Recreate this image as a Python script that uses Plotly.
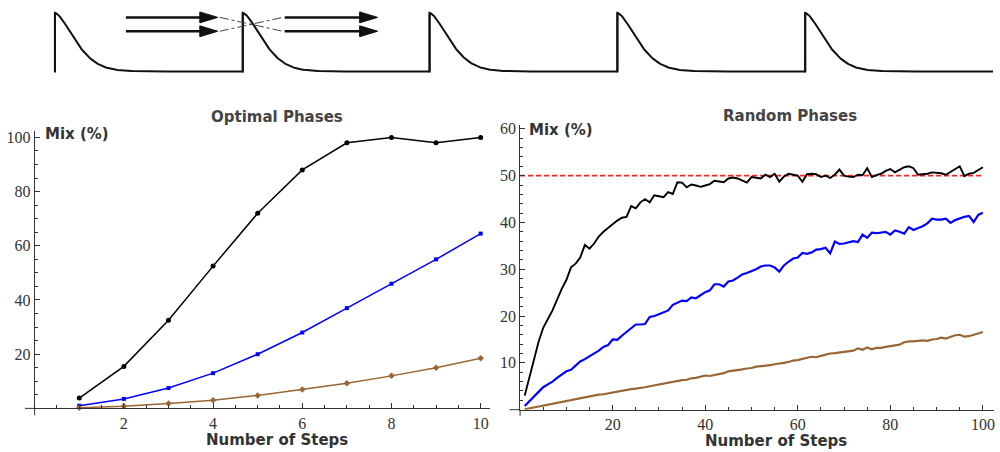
import numpy as np
import plotly.graph_objects as go

W, H = 1000, 452

# ---------------- data ----------------
opt_steps = [1, 2, 3, 4, 5, 6, 7, 8, 9, 10]
opt_black = [3.8, 15.5, 32.5, 52.5, 72.0, 88.0, 98.0, 100.0, 98.0, 100.0]
opt_blue = [1.0, 3.5, 7.5, 13.0, 20.0, 28.0, 37.0, 46.0, 55.0, 64.5]
opt_brown = [0.2, 0.8, 1.8, 3.0, 4.8, 7.0, 9.3, 12.0, 15.0, 18.5]

rnd_steps = list(range(1, 101))
rnd_black = [
    3.0, 7.0, 11.0, 14.5, 17.5, 19.3, 21.2, 23.5, 25.8, 27.7,
    30.4, 31.2, 32.5, 35.2, 34.4, 35.5, 37.0, 38.0, 38.8, 39.8,
    40.4, 41.0, 41.2, 43.5, 43.0, 44.3, 45.0, 44.3, 45.8, 45.6,
    45.4, 46.5, 46.1, 48.6, 48.5, 47.5, 48.1, 47.9, 47.6, 47.9,
    48.2, 48.9, 48.8, 48.6, 49.4, 49.6, 49.4, 49.0, 48.5, 49.7,
    49.5, 49.4, 50.2, 49.7, 50.4, 48.7, 49.8, 50.4, 50.2, 50.0,
    48.7, 50.3, 50.4, 50.3, 49.7, 50.0, 49.5, 50.2, 51.3, 50.0,
    49.8, 49.7, 50.2, 50.1, 51.6, 49.7, 50.1, 50.4, 51.0, 51.4,
    50.7, 51.2, 51.8, 52.0, 51.6, 50.2, 50.3, 50.4, 50.7, 50.6,
    50.5, 50.2, 50.8, 51.3, 52.0, 49.9, 50.4, 50.6, 51.2, 51.8,
]
rnd_blue = [
    0.8, 1.8, 2.7, 3.8, 4.8, 5.4, 6.0, 6.8, 7.5, 8.2,
    8.5, 9.5, 10.3, 10.8, 11.4, 12.0, 12.6, 13.4, 13.8, 15.0,
    14.9, 15.8, 16.6, 17.3, 18.2, 18.2, 18.3, 19.8, 20.0, 20.4,
    20.8, 21.2, 22.4, 22.9, 23.3, 23.2, 24.0, 23.8, 24.5, 25.1,
    25.5, 26.8, 26.8, 26.3, 27.4, 27.6, 28.2, 28.9, 29.2, 29.6,
    30.0, 30.6, 30.8, 30.8, 30.4, 29.5, 30.8, 31.6, 32.3, 32.5,
    33.5, 33.3, 33.6, 34.2, 34.3, 34.6, 33.4, 35.9, 35.4, 35.5,
    35.8, 36.0, 35.8, 37.4, 36.7, 37.8, 37.7, 37.8, 38.0, 37.4,
    38.3, 38.0, 37.6, 39.0, 38.4, 38.8, 39.2, 39.8, 40.8, 40.6,
    40.6, 40.8, 39.9, 40.5, 40.9, 41.2, 41.4, 40.1, 41.6, 42.1,
]
rnd_brown = [
    0.1, 0.3, 0.5, 0.7, 0.9, 1.1, 1.3, 1.5, 1.7, 1.9,
    2.1, 2.3, 2.5, 2.6, 2.8, 3.0, 3.2, 3.3, 3.5, 3.7,
    3.8, 4.0, 4.2, 4.4, 4.5, 4.6, 4.8, 5.0, 5.2, 5.4,
    5.6, 5.7, 6.0, 6.1, 6.3, 6.4, 6.7, 6.8, 7.0, 7.3,
    7.2, 7.4, 7.6, 7.8, 8.2, 8.3, 8.4, 8.6, 8.8, 8.9,
    9.2, 9.3, 9.3, 9.5, 9.7, 9.8, 10.0, 10.2, 10.5, 10.6,
    10.9, 11.1, 11.3, 11.2, 11.5, 11.8, 12.0, 12.1, 12.2, 12.3,
    12.5, 12.6, 13.1, 12.8, 13.3, 12.9, 13.2, 13.2, 13.4, 13.6,
    13.7, 13.9, 14.4, 14.6, 14.6, 14.7, 14.8, 14.7, 15.0, 15.1,
    15.4, 15.2, 15.6, 15.9, 16.0, 15.6, 15.7, 16.0, 16.2, 16.6,
]
random_limit = 50

opt_xticks = [2, 4, 6, 8, 10]
opt_yticks = [20, 40, 60, 80, 100]
rnd_xticks = [20, 40, 60, 80, 100]
rnd_yticks = [10, 20, 30, 40, 50, 60]

# ---------------- styles ----------------
BLACK = "#000000"
BLUE = "#0000ff"
BROWN = "rgb(153,102,51)"
AXC = "#333333"
TICKFONT = dict(family="Liberation Serif", size=16, color="#333333")
LABFONT = dict(family="DejaVu Sans", size=15, color="#333333")
TITLEFONT = dict(family="DejaVu Sans", size=15, color="#444444")


def px(x):
    return x / W


def py(y):
    return (H - y) / H


fig = go.Figure()

# ---------------- left: optimal phases ----------------
for ys, col, sym, sz in [(opt_black, BLACK, "circle", 5),
                         (opt_blue, BLUE, "square", 4),
                         (opt_brown, BROWN, "diamond", 5)]:
    fig.add_trace(go.Scatter(x=opt_steps, y=ys, mode="lines+markers",
                             line=dict(color=col, width=1.5),
                             marker=dict(color=col, size=sz, symbol=sym),
                             xaxis="x", yaxis="y", showlegend=False,
                             cliponaxis=False))

# ---------------- right: random phases ----------------
fig.add_trace(go.Scatter(x=[0, 100], y=[random_limit, random_limit], mode="lines",
                         line=dict(color="rgb(255,30,30)", width=1.6, dash="5px,3px"),
                         xaxis="x2", yaxis="y2", showlegend=False))
for ys, col, w in [(rnd_brown, BROWN, 2.2), (rnd_blue, BLUE, 2.2), (rnd_black, BLACK, 1.9)]:
    fig.add_trace(go.Scatter(x=rnd_steps, y=ys, mode="lines",
                             line=dict(color=col, width=w),
                             xaxis="x2", yaxis="y2", showlegend=False,
                             cliponaxis=False))

# ---------------- top schematic ----------------
pulse_starts = [55, 243, 430, 618, 806]
base_y, top_y, end_x = 68, 9, 994
sx, sy = [], []
for i, x0 in enumerate(pulse_starts):
    nxt = pulse_starts[i + 1] if i + 1 < len(pulse_starts) else end_x
    xs = np.linspace(x0, nxt, 200)
    f = np.exp(-((xs - x0) / 27.3) ** 1.59)
    sx += [x0] + list(xs)
    sy += [base_y] + list(base_y - (base_y - top_y) * f)
    sx.append(None)
    sy.append(None)
fig.add_trace(go.Scatter(x=sx, y=sy, mode="lines", line=dict(color="#111", width=2),
                         xaxis="x3", yaxis="y3", showlegend=False, connectgaps=False))
vx, vy = [], []
for x0 in pulse_starts:
    vx += [x0, x0, None]
    vy += [base_y + 1, top_y, None]
fig.add_trace(go.Scatter(x=vx, y=vy, mode="lines", line=dict(color="#111", width=2),
                         xaxis="x3", yaxis="y3", showlegend=False))

arrow_rows = [13.5, 27.5]
arrow_spans = [(126, 218), (285, 378)]
for (xa, xb) in arrow_spans:
    for yy in arrow_rows:
        fig.add_trace(go.Scatter(x=[xa, xb - 16], y=[yy, yy], mode="lines",
                                 line=dict(color="#111", width=2.5),
                                 xaxis="x3", yaxis="y3", showlegend=False))
        fig.add_trace(go.Scatter(x=[xb - 18, xb, xb - 18, xb - 18],
                                 y=[yy - 5.5, yy, yy + 5.5, yy - 5.5],
                                 mode="lines", fill="toself", fillcolor="#111",
                                 line=dict(color="#111", width=1),
                                 xaxis="x3", yaxis="y3", showlegend=False))
cross_x = (arrow_spans[0][1] + 2, arrow_spans[1][0] - 2)
fig.add_trace(go.Scatter(x=[cross_x[0], cross_x[1], None, cross_x[0], cross_x[1]],
                         y=[arrow_rows[0], arrow_rows[1], None, arrow_rows[1], arrow_rows[0]],
                         mode="lines", line=dict(color="#444", width=1, dash="dashdot"),
                         xaxis="x3", yaxis="y3", showlegend=False))

# ---------------- axes ----------------
common = dict(showgrid=False, zeroline=False, showline=True, linecolor=AXC,
              linewidth=1, ticks="inside", ticklen=5, tickcolor=AXC,
              tickfont=TICKFONT, fixedrange=True)

fig.update_layout(
    width=W, height=H, margin=dict(l=0, r=0, t=0, b=0),
    paper_bgcolor="white", plot_bgcolor="rgba(0,0,0,0)",
    xaxis=dict(domain=[px(34.7), px(490.1)], range=[0, 10.2], anchor="y",
               tickvals=opt_xticks,
               minor=dict(tickvals=[0.5, 1, 1.5, 2.5, 3, 3.5, 4.5, 5, 5.5, 6.5, 7, 7.5,
                                    8.5, 9, 9.5, 10.5],
                          ticks="inside", ticklen=3, tickcolor=AXC),
               **common),
    yaxis=dict(domain=[py(408), py(128.3)], range=[0, 102.3], anchor="x",
               tickvals=opt_yticks,
               minor=dict(dtick=5, ticks="inside", ticklen=3, tickcolor=AXC),
               **common),
    xaxis2=dict(domain=[px(520.6), px(995)], range=[0, 102.4], anchor="y2",
                tickvals=rnd_xticks,
                minor=dict(dtick=5, ticks="inside", ticklen=3, tickcolor=AXC),
                **common),
    yaxis2=dict(domain=[py(409.3), py(121.7)], range=[0, 60.9], anchor="x2",
                tickvals=rnd_yticks,
                minor=dict(dtick=2, ticks="inside", ticklen=3, tickcolor=AXC),
                **common),
    xaxis3=dict(domain=[0, 1], range=[0, W], visible=False, fixedrange=True, anchor="y3"),
    yaxis3=dict(domain=[py(74), py(2)], range=[74, 2], visible=False, fixedrange=True,
                anchor="x3"),
)

# axis extensions past the origin (Mathematica style)
for (x0, y0, x1, y1) in [(25, 408, 34.7, 408), (34.7, 408, 34.7, 415),
                         (510, 409.3, 520.6, 409.3), (520.6, 409.3, 520.6, 415.5)]:
    fig.add_shape(type="line", xref="paper", yref="paper",
                  x0=px(x0), y0=py(y0), x1=px(x1), y1=py(y1),
                  line=dict(color=AXC, width=1))

# text
ann = [
    ("<b>Optimal Phases</b>", 277.5, 114, "center", TITLEFONT),
    ("<b>Random Phases</b>", 791, 113, "center", TITLEFONT),
    ("<b>Mix (%)</b>", 43, 131, "left", LABFONT),
    ("<b>Mix (%)</b>", 528, 127, "left", LABFONT),
    ("<b>Number of Steps</b>", 277, 440, "center", LABFONT),
    ("<b>Number of Steps</b>", 776.5, 441, "center", LABFONT),
]
for txt, x, y, xa, fnt in ann:
    fig.add_annotation(text=txt, x=px(x), y=py(y), xref="paper", yref="paper",
                       xanchor=xa, yanchor="middle", showarrow=False, font=fnt)

fig.write_html("out.html", config={"displayModeBar": False},
               post_script="document.body.style.margin='0';document.body.style.overflow='hidden';")
